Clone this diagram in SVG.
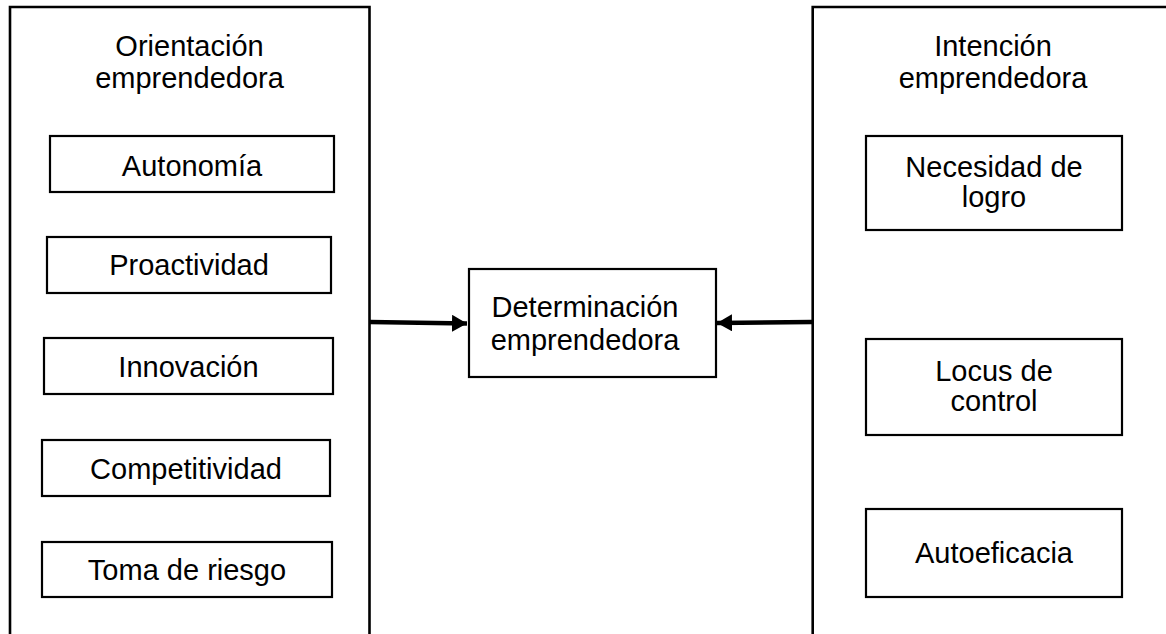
<svg xmlns="http://www.w3.org/2000/svg" width="1166" height="634" viewBox="0 0 1166 634">
<style>
.box{fill:#fff;stroke:#000;stroke-width:2.2}
.panel{fill:none;stroke:#000;stroke-width:2.6}
.t{font-family:"Liberation Sans",Arial,sans-serif;font-size:29px;fill:#000;text-anchor:middle}
.conn{stroke:#000;stroke-width:4.5;fill:none}
</style>
<defs>
<marker id="ah" markerUnits="userSpaceOnUse" markerWidth="16" markerHeight="18" refX="15" refY="8.5" orient="auto">
<path d="M0,0 L15,8.5 L0,17 Z" fill="#000"/>
</marker>
</defs>
<rect width="1166" height="634" fill="#fff"/>
<g id="panel-orientacion">
<path class="panel" d="M10,636 V7 H369.5 V636"/>
<text class="t" x="189.5" y="55.5">Orientación</text>
<text class="t" x="189.5" y="87.5">emprendedora</text>
</g>
<g id="panel-intencion">
<path class="panel" d="M812.7,636 V7 H1170"/>
<text class="t" x="993" y="55.5">Intención</text>
<text class="t" x="993" y="87.5">emprendedora</text>
</g>
<g id="autonomia">
<rect class="box" x="50" y="136" width="284" height="56"/>
<text class="t" x="192" y="176">Autonomía</text>
</g>
<g id="proactividad">
<rect class="box" x="47" y="237" width="284" height="56"/>
<text class="t" x="189" y="274.5">Proactividad</text>
</g>
<g id="innovacion">
<rect class="box" x="44" y="338" width="289" height="56"/>
<text class="t" x="188.5" y="377">Innovación</text>
</g>
<g id="competitividad">
<rect class="box" x="42" y="440" width="288" height="56"/>
<text class="t" x="186" y="479">Competitividad</text>
</g>
<g id="toma-riesgo">
<rect class="box" x="42" y="542" width="290" height="55"/>
<text class="t" x="187" y="580">Toma de riesgo</text>
</g>
<g id="determinacion">
<rect class="box" x="469" y="269" width="247" height="108"/>
<text class="t" x="585" y="317">Determinación</text>
<text class="t" x="585" y="350">emprendedora</text>
</g>
<g id="necesidad-logro">
<rect class="box" x="866" y="136" width="256" height="94"/>
<text class="t" x="994" y="177">Necesidad de</text>
<text class="t" x="994" y="207">logro</text>
</g>
<g id="locus-control">
<rect class="box" x="866" y="339" width="256" height="96"/>
<text class="t" x="994" y="381">Locus de</text>
<text class="t" x="994" y="411">control</text>
</g>
<g id="autoeficacia">
<rect class="box" x="866" y="509" width="256" height="88"/>
<text class="t" x="994" y="563">Autoeficacia</text>
</g>
<g id="connectors">
<line class="conn" x1="370" y1="322" x2="467" y2="323.5" marker-end="url(#ah)"/>
<line class="conn" x1="812" y1="322" x2="717" y2="323" marker-end="url(#ah)"/>
</g>
</svg>
